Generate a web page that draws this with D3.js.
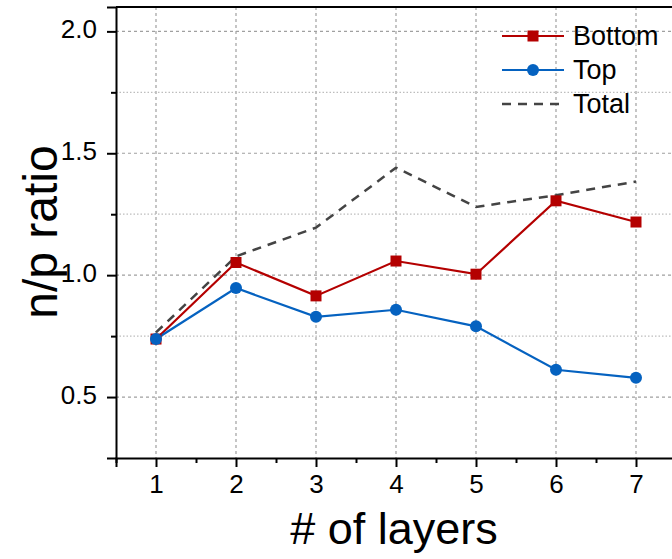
<!DOCTYPE html>
<html>
<head>
<meta charset="utf-8">
<script src="https://cdn.jsdelivr.net/npm/d3@7"></script>
<style>
  html, body { margin: 0; padding: 0; background: #fff; }
  svg { display: block; font-family: "Liberation Sans", Arial, sans-serif; }
</style>
</head>
<body>
<svg id="chart" width="672" height="559"></svg>
<script>
// Number of layers on the x axis
const layers = [1, 2, 3, 4, 5, 6, 7];
// n/p ratio per series
const bottomValues = [0.738, 1.052, 0.915, 1.058, 1.004, 1.305, 1.218];
const topValues    = [0.738, 0.947, 0.829, 0.858, 0.790, 0.612, 0.579];
const totalValues  = [0.765, 1.077, 1.195, 1.441, 1.280, 1.328, 1.384];
// Tick labels
const xTicks = [1, 2, 3, 4, 5, 6, 7];
const yTicks = [0.5, 1.0, 1.5, 2.0];
const yMinorTicks = [0.75, 1.25, 1.75];

const svg = d3.select("#chart");
const plotLeft = 116, plotRight = 676, plotTop = 7, plotBottom = 458;

const x = d3.scaleLinear().domain([0.5, 7.5]).range([plotLeft, plotRight]);
const y = d3.scaleLinear().domain([0.25, 2.1]).range([plotBottom, plotTop]);

const red = "#B40000", blue = "#0562C0", grey = "#444";

// Grid lines
const grid = svg.append("g");
grid.selectAll(".gx").data(xTicks).join("line")
  .attr("x1", d => x(d)).attr("x2", d => x(d))
  .attr("y1", plotTop).attr("y2", plotBottom)
  .attr("stroke", "#a0a0a0").attr("stroke-width", 1.2).attr("stroke-dasharray", "3,3");
grid.selectAll(".gy").data(yTicks).join("line")
  .attr("x1", plotLeft).attr("x2", plotRight)
  .attr("y1", d => y(d)).attr("y2", d => y(d))
  .attr("stroke", "#a0a0a0").attr("stroke-width", 1.2).attr("stroke-dasharray", "3,3");
grid.selectAll(".gym").data(yMinorTicks).join("line")
  .attr("x1", plotLeft).attr("x2", plotRight)
  .attr("y1", d => y(d)).attr("y2", d => y(d))
  .attr("stroke", "#bdbdbd").attr("stroke-width", 1.2).attr("stroke-dasharray", "1.5,2");

// Top frame line
svg.append("line").attr("x1", plotLeft).attr("x2", plotRight).attr("y1", plotTop).attr("y2", plotTop)
  .attr("stroke", "#000").attr("stroke-width", 2);

// X axis
const xAxis = svg.append("g").attr("transform", `translate(0,${plotBottom})`)
  .call(d3.axisBottom(x).tickValues(xTicks).tickFormat(d3.format("d")).tickSize(9).tickPadding(8));
svg.append("g").attr("transform", `translate(0,${plotBottom})`)
  .call(d3.axisBottom(x).tickValues(d3.range(0.5, 7.6, 1)).tickFormat("").tickSize(5))
  .select(".domain").remove();

// Y axis
const yAxis = svg.append("g").attr("transform", `translate(${plotLeft},0)`)
  .call(d3.axisLeft(y).tickValues(yTicks).tickFormat(d3.format(".1f")).tickSize(9).tickPadding(10));
svg.append("g").attr("transform", `translate(${plotLeft},0)`)
  .call(d3.axisLeft(y).tickValues(yMinorTicks).tickFormat("").tickSize(5))
  .select(".domain").remove();

svg.selectAll(".domain").attr("stroke", "#000").attr("stroke-width", 2);
svg.selectAll(".tick line").attr("stroke", "#000").attr("stroke-width", 2);
svg.selectAll(".tick text").attr("fill", "#000").attr("font-size", 26)
  .attr("font-family", "'Liberation Sans', Arial, sans-serif");
xAxis.selectAll(".tick text").attr("dy", "0.71em");
yAxis.selectAll(".tick text").attr("dy", "0.25em");

// Axis titles
svg.append("text").attr("x", 394).attr("y", 544).attr("text-anchor", "middle")
  .attr("font-size", 45).attr("fill", "#000").text("# of layers");
svg.append("text").attr("transform", `translate(57,232) rotate(-90)`)
  .attr("text-anchor", "middle").attr("font-size", 48).attr("fill", "#000").text("n/p ratio");

// Series lines
const line = d3.line().x((d, i) => x(layers[i])).y(d => y(d));

svg.append("path").datum(totalValues).attr("d", line)
  .attr("fill", "none").attr("stroke", grey).attr("stroke-width", 2.5)
  .attr("stroke-dasharray", "9,7");
svg.append("path").datum(bottomValues).attr("d", line)
  .attr("fill", "none").attr("stroke", red).attr("stroke-width", 2.2);
svg.append("path").datum(topValues).attr("d", line)
  .attr("fill", "none").attr("stroke", blue).attr("stroke-width", 2.2);

// Markers
const sq = 11;
svg.selectAll(".bm").data(bottomValues).join("rect")
  .attr("x", (d, i) => x(layers[i]) - sq / 2).attr("y", d => y(d) - sq / 2)
  .attr("width", sq).attr("height", sq).attr("fill", red);
svg.selectAll(".tm").data(topValues).join("circle")
  .attr("cx", (d, i) => x(layers[i])).attr("cy", d => y(d)).attr("r", 6)
  .attr("fill", blue);

// Legend
const legend = svg.append("g");
const legItems = [
  { name: "Bottom", color: red, marker: "square", dash: null },
  { name: "Top", color: blue, marker: "circle", dash: null },
  { name: "Total", color: grey, marker: null, dash: "9,7" }
];
legItems.forEach((it, i) => {
  const ly = 36 + i * 34;
  legend.append("line").attr("x1", 502).attr("x2", 564).attr("y1", ly).attr("y2", ly)
    .attr("stroke", it.color).attr("stroke-width", it.dash ? 2.5 : 2.2)
    .attr("stroke-dasharray", it.dash);
  if (it.marker === "square") {
    legend.append("rect").attr("x", 533 - 5.5).attr("y", ly - 5.5)
      .attr("width", 11).attr("height", 11).attr("fill", it.color);
  } else if (it.marker === "circle") {
    legend.append("circle").attr("cx", 533).attr("cy", ly).attr("r", 6).attr("fill", it.color);
  }
  legend.append("text").attr("x", 573).attr("y", ly + 9)
    .attr("font-size", 27).attr("fill", "#000").text(it.name);
});
</script>
</body>
</html>
